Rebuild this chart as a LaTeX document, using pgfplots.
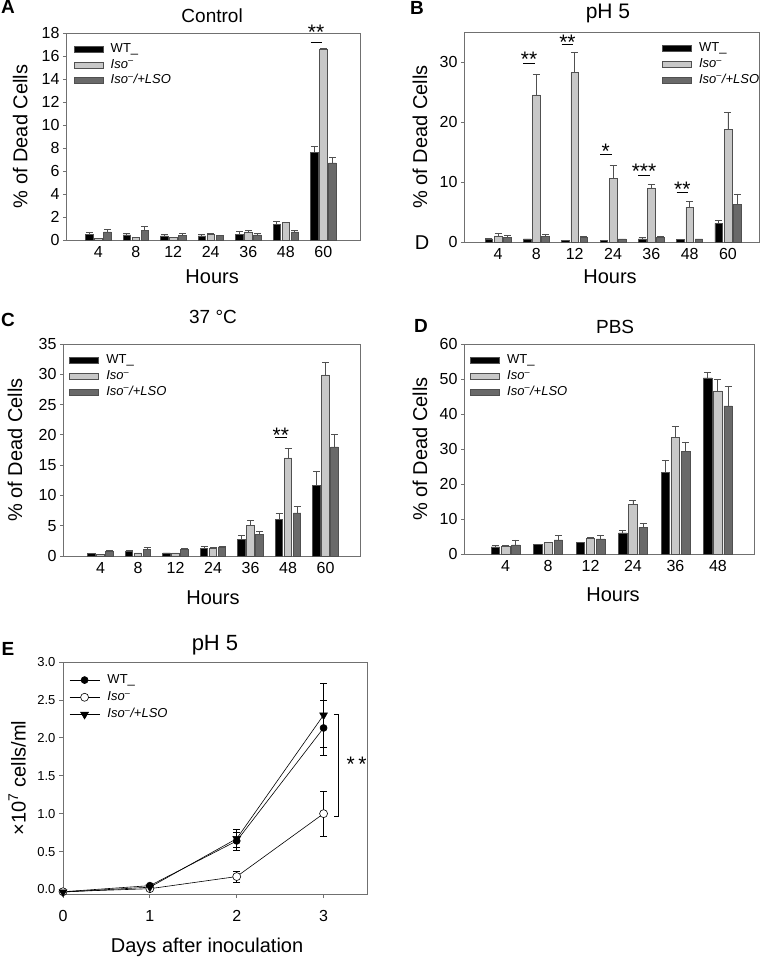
\documentclass[border=0pt]{standalone}
\usepackage{fontspec}
\setmainfont{Liberation Sans}
\usepackage{pgfplots}
\pgfplotsset{compat=1.18}
\usepackage{pgfplotstable}

\definecolor{isoc}{HTML}{C8C8C8}
\definecolor{lsoc}{HTML}{696969}
\definecolor{edge}{HTML}{505050}
\definecolor{frame}{HTML}{707070}

\pgfplotstableread{
x wt wte iso isoe lso lsoe
0 0.50 0.15 0.15 0.00 0.70 0.25
1 0.45 0.15 0.25 0.00 0.85 0.30
2 0.35 0.10 0.20 0.00 0.40 0.15
3 0.35 0.15 0.50 0.10 0.40 0.00
4 0.50 0.20 0.70 0.15 0.45 0.15
5 1.35 0.30 1.50 0.05 0.70 0.10
6 7.60 0.55 16.60 0.05 6.70 0.50
}\tblA
\pgfplotstableread{
x wt wte iso isoe lso lsoe
0 0.50 0.10 1.00 0.50 0.80 0.30
1 0.50 0.00 24.50 3.50 0.90 0.40
2 0.30 0.00 28.20 3.40 0.80 0.20
3 0.25 0.00 10.60 2.20 0.50 0.00
4 0.50 0.20 9.00 0.60 0.70 0.30
5 0.40 0.10 5.80 1.00 0.50 0.00
6 3.10 0.50 18.80 2.80 6.20 1.80
}\tblB
\pgfplotstableread{
x wt wte iso isoe lso lsoe
0 0.40 0.00 0.30 0.00 0.70 0.20
1 0.70 0.15 0.50 0.00 1.10 0.25
2 0.50 0.00 0.50 0.00 1.10 0.15
3 1.30 0.30 1.20 0.20 1.50 0.00
4 2.70 0.70 5.00 0.90 3.60 0.50
5 6.00 1.00 16.20 1.50 7.10 1.10
6 11.70 2.30 29.90 2.10 18.00 2.00
}\tblC
\pgfplotstableread{
x wt wte iso isoe lso lsoe
0 2.00 0.30 2.20 0.30 2.60 1.40
1 2.80 0.00 3.20 0.20 4.00 1.20
2 3.20 0.00 4.40 0.20 4.30 1.00
3 6.00 0.70 14.20 1.10 7.60 1.20
4 23.30 3.50 33.20 3.30 29.20 2.80
5 50.30 1.50 46.60 3.20 42.30 5.70
}\tblD
\pgfplotstableread{
x wt wte iso isoe lso lsoe
0 -0.03 0.00 -0.03 0.00 -0.035 0.00
1 0.05 0.01 0.01 0.01 0.03 0.01
2 0.64 0.12 0.17 0.07 0.67 0.12
3 2.13 0.36 1.00 0.30 2.30 0.42
}\tblE

\newcommand{\lwt}{WT\_}
\newcommand{\liso}{\textit{Iso}\textsuperscript{–}}
\newcommand{\llso}{\textit{Iso}\textsuperscript{–}\textit{/+LSO}}

\pgfplotsset{
  common/.style={
    scale only axis,
    axis line style={frame, line width=0.8pt},
    tick align=outside, tick pos=left,
    major tick length=3pt,
    tick style={frame, line width=0.8pt},
    tick label style={font=\fontsize{16}{18}\selectfont},
    /pgf/number format/assume math mode=true,
    label style={font=\fontsize{20}{22}\selectfont},
    title style={font=\fontsize{19}{21}\selectfont, anchor=center},
    clip=false,
    legend style={draw=none, fill=none, font=\fontsize{13}{15}\selectfont,
      inner sep=0pt, row sep=0pt,
      nodes={inner sep=1.6pt, text height=9.5pt, text depth=3pt},
      /tikz/every odd column/.append style={column sep=6pt}},
    legend cell align=left,
  },
  barax/.style={
    common,
    ybar, bar width=0.2, bar shift=0pt,
    xtick={0,...,6}, xtick style={draw=none},
    ymin=0,
    xlabel={Hours}, ylabel={\% of Dead Cells},
    legend image code/.code={\draw[##1] (0pt,-3pt) rectangle (29pt,3pt);},
    error bars/y dir=plus, error bars/y explicit,
    error bars/error mark=-,
    error bars/error bar style={edge, line width=0.9pt, solid},
    error bars/error mark options={edge, line width=0.9pt, mark size=3.5pt, rotate=90},
  },
  wtbar/.style={fill=black, draw=edge, line width=0.6pt},
  isobar/.style={fill=isoc, draw=edge, line width=0.6pt},
  lsobar/.style={fill=lsoc, draw=edge, line width=0.6pt},
}

\newcommand{\bars}[1]{%
  \addplot[wtbar] table[x expr=\thisrow{x}-0.24, y=wt, y error=wte] {#1};
  \addplot[isobar] table[x=x, y=iso, y error=isoe] {#1};
  \addplot[lsobar] table[x expr=\thisrow{x}+0.24, y=lso, y error=lsoe] {#1};
}
\newcommand{\sig}[4]{% x, line y, star y, text
  \draw[black, line width=0.8pt] (axis cs:#1-0.34,#2) -- (axis cs:#1-0.04,#2);
  \node[font=\fontsize{21}{23}\selectfont, anchor=center, yshift=-4.5pt, inner sep=0pt] at (axis cs:#1-0.19,#3) {#4};
}

\begin{document}
\begin{tikzpicture}[x=1pt,y=1pt]
\useasboundingbox (0,0) rectangle (766,960);

% Panel letters
\node[font=\fontsize{19}{21}\selectfont\bfseries] at (8,953) {A};
\node[font=\fontsize{19}{21}\selectfont\bfseries] at (417,952) {B};
\node[font=\fontsize{19}{21}\selectfont\bfseries] at (8,640) {C};
\node[font=\fontsize{19}{21}\selectfont\bfseries] at (421,634) {D};
\node[font=\fontsize{19}{21}\selectfont\bfseries] at (8,311) {E};
\node[font=\fontsize{20}{22}\selectfont] at (422,717) {D};

% ---------- A ----------
\begin{axis}[barax, at={(66pt,720pt)}, anchor=south west,
  width=294pt, height=207pt,
  xmin=-0.86, xmax=6.98, ymax=18, ytick={0,2,...,18},
  xticklabels={4,8,12,24,36,48,60},
  title={Control}, title style={at={(rel axis cs:0.497,1.053)}},
  xlabel style={at={(rel axis cs:0.497,-0.179)}, anchor=center},
  ylabel style={at={(rel axis cs:-0.156,0.5)}, anchor=center},
  legend style={at={(rel axis cs:0.025,0.96)}, anchor=north west},
]
\bars{\tblA}
\legend{\lwt,\liso,\llso}
\sig{6}{17.16}{18.43}{**}
\end{axis}

% ---------- B ----------
\begin{axis}[barax, at={(464pt,718pt)}, anchor=south west,
  width=295pt, height=210pt,
  xmin=-0.89, xmax=6.81, ymax=35, ytick={0,10,20,30},
  xticklabels={4,8,12,24,36,48,60},
  title={pH 5}, title style={font=\fontsize{21}{23}\selectfont, at={(rel axis cs:0.488,1.06)}},
  xlabel style={at={(rel axis cs:0.495,-0.167)}, anchor=center},
  ylabel style={at={(rel axis cs:-0.149,0.5)}, anchor=center},
  legend style={at={(rel axis cs:0.67,0.96)}, anchor=north west},
]
\bars{\tblB}
\legend{\lwt,\liso,\llso}
\sig{1}{29.7}{31.2}{**}
\sig{2}{33.0}{34.0}{**}
\sig{3}{14.6}{15.9}{*}
\sig{4}{11.1}{12.6}{***}
\sig{5}{8.2}{9.6}{**}
\end{axis}

% ---------- C ----------
\begin{axis}[barax, at={(63pt,404pt)}, anchor=south west,
  width=297pt, height=212pt,
  xmin=-1.0, xmax=6.92, ymax=35, ytick={0,5,...,35},
  xticklabels={4,8,12,24,36,48,60},
  title={37 °C}, title style={at={(rel axis cs:0.505,1.099)}},
  xlabel style={at={(rel axis cs:0.505,-0.198)}, anchor=center},
  ylabel style={at={(rel axis cs:-0.162,0.5)}, anchor=center},
  legend style={at={(rel axis cs:0.02,0.96)}, anchor=north west},
]
\bars{\tblC}
\legend{\lwt,\liso,\llso}
\sig{5}{19.6}{20.7}{**}
\end{axis}

% ---------- D ----------
\begin{axis}[barax, at={(464pt,406pt)}, anchor=south west,
  width=290pt, height=210pt,
  xmin=-0.98, xmax=5.85, ymax=60, ytick={0,10,...,60},
  xtick={0,...,5},
  xticklabels={4,8,12,24,36,48},
  title={PBS}, title style={at={(rel axis cs:0.521,1.052)}},
  xlabel style={at={(rel axis cs:0.514,-0.195)}, anchor=center},
  ylabel style={at={(rel axis cs:-0.152,0.5)}, anchor=center},
  legend style={at={(rel axis cs:0.02,0.96)}, anchor=north west},
]
\bars{\tblD}
\legend{\lwt,\liso,\llso}
\end{axis}

% ---------- E ----------
\begin{axis}[common, at={(63pt,66pt)}, anchor=south west,
  width=304pt, height=232pt,
  xmin=0, xmax=3.5, ymin=-0.06, ymax=3.0,
  xtick={0,1,2,3}, ytick={0,0.5,...,3.0},
  major tick length=4pt,
  xticklabel style={yshift=-9pt},
  yticklabel style={font=\fontsize{13}{15}\selectfont,
    /pgf/number format/.cd, fixed, fixed zerofill, precision=1},
  title={pH 5}, title style={font=\fontsize{22}{24}\selectfont, at={(rel axis cs:0.5,1.045)}},
  xlabel={Days after inoculation}, ylabel={×10\textsuperscript{7} cells/ml},
  xlabel style={at={(rel axis cs:0.474,-0.228)}, anchor=center},
  ylabel style={at={(rel axis cs:-0.151,0.5)}, anchor=center},
  legend style={at={(rel axis cs:0.02,0.96)}, anchor=north west,
    nodes={text height=10.5pt, text depth=3.5pt}},
  legend image code/.code={\draw[mark repeat=2, mark phase=2, #1] plot coordinates {(0pt,0pt) (15pt,0pt) (30pt,0pt)};},
  error bars/y dir=both, error bars/y explicit,
  error bars/error bar style={black, line width=0.6pt},
  error bars/error mark options={black, line width=0.6pt, mark size=3.5pt, rotate=90},
]
\addplot[black, line width=0.6pt, mark=*, mark size=3.5pt, mark options={solid}]
  table[x=x, y=wt, y error=wte] {\tblE};
\addplot[black, line width=0.6pt, mark=*, mark size=4pt, mark options={fill=white}]
  table[x=x, y=iso, y error=isoe] {\tblE};
\addplot[black, line width=0.6pt, mark=triangle*, mark size=4.5pt, mark options={rotate=180}]
  table[x=x, y=lso, y error=lsoe] {\tblE};
\legend{\lwt,\liso,\llso}
\draw[black, line width=0.8pt] (axis cs:3.12,2.31) -- (axis cs:3.17,2.31) -- (axis cs:3.17,0.96) -- (axis cs:3.12,0.96);
\node[font=\fontsize{21}{23}\selectfont, anchor=center, yshift=-4.5pt, inner sep=0pt] at (axis cs:3.38,1.71) {*\,*};
\end{axis}
\end{tikzpicture}
\end{document}
